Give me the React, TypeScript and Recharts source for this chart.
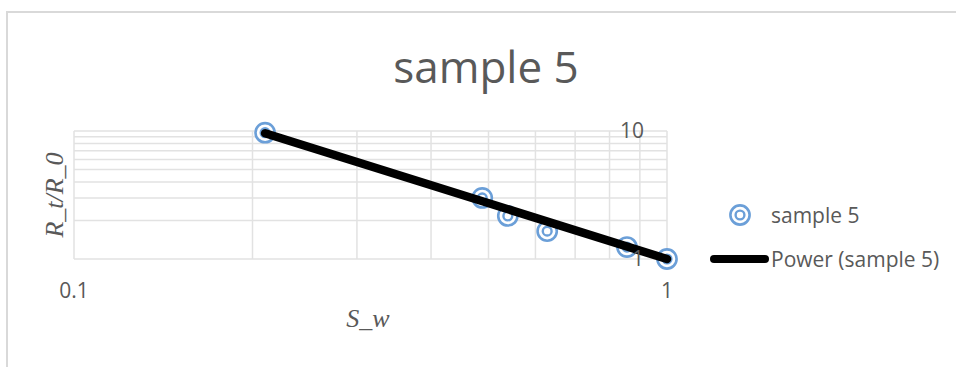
import React from "react";
import { ScatterChart, Scatter, XAxis, YAxis, ReferenceLine } from "recharts";

// measured points (S_w, R_t/R_0)
const swValues = [0.21, 0.488, 0.539, 0.628, 0.856, 1.0];
const rtValues = [9.7, 3.0, 2.17, 1.65, 1.24, 1.0];

// power trendline end points
const trendSw = [0.21, 1.0];
const trendRt = [9.6, 1.0];

const xTicks = [0.1, 1];
const yTicks = [1, 10];
const xGrid = [0.1, 0.2, 0.3, 0.4, 0.5, 0.6, 0.7, 0.8, 0.9, 1];
const yGrid = [1, 2, 3, 4, 5, 6, 7, 8, 9, 10];

const samples = swValues.map((x, i) => ({ x, y: rtValues[i] }));
const trend = trendSw.map((x, i) => ({ x, y: trendRt[i] }));

const TEXT = "#595959";
const GRID = "#e2e2e2";
const BLUE = "#6b9fd8";
const SANS = "'Open Sans', sans-serif";
const SERIF = "'Liberation Serif', serif";

const Marker = ({ cx, cy }: { cx?: number; cy?: number }) => (
  <g>
    <circle cx={cx} cy={cy} r={9.6} fill="#fff" stroke={BLUE} strokeWidth={2.6} />
    <circle cx={cx} cy={cy} r={4.4} fill="#fff" stroke={BLUE} strokeWidth={2.4} />
  </g>
);

export default function App() {
  return (
    <div style={{ position: "absolute", left: 0, top: 0, width: 956, height: 367, background: "#fff" }}>
      {/* chart frame */}
      <div
        style={{
          position: "absolute",
          left: 6,
          top: 11,
          right: 0,
          bottom: 0,
          borderLeft: "2px solid #d9d9d9",
          borderTop: "2px solid #d9d9d9",
        }}
      />
      <ScatterChart
        width={956}
        height={367}
        margin={{ top: 131, left: 74, right: 289, bottom: 68 }}
        style={{ position: "absolute", left: 0, top: 0 }}
      >
        <XAxis
          type="number"
          dataKey="x"
          scale="log"
          domain={[0.1, 1]}
          ticks={xTicks}
          axisLine={false}
          tickLine={false}
          tickSize={0}
          tickMargin={24}
          height={40}
          tick={{ fill: TEXT, fontSize: 21, fontFamily: SANS }}
          tickFormatter={(v: number) => String(v)}
        />
        <YAxis
          type="number"
          dataKey="y"
          scale="log"
          domain={[1, 10]}
          ticks={yTicks}
          orientation="right"
          mirror
          width={1}
          axisLine={false}
          tickLine={false}
          tickSize={0}
          tickMargin={23}
          tick={{ fill: TEXT, fontSize: 21, fontFamily: SANS }}
        />
        {xGrid.map((v) => (
          <ReferenceLine key={"x" + v} x={v} stroke={GRID} strokeWidth={1.5} />
        ))}
        {yGrid.map((v) => (
          <ReferenceLine key={"y" + v} y={v} stroke={GRID} strokeWidth={1.5} />
        ))}
        <Scatter name="sample 5" data={samples} shape={<Marker />} isAnimationActive={false} />
        <Scatter
          name="Power (sample 5)"
          data={trend}
          line={{ stroke: "#000", strokeWidth: 8.5, strokeLinecap: "round" }}
          lineType="joint"
          shape={() => <g />}
          isAnimationActive={false}
        />
      </ScatterChart>

      {/* title, axis titles and legend */}
      <svg
        width={956}
        height={367}
        style={{ position: "absolute", left: 0, top: 0, pointerEvents: "none" }}
      >
        <text x={486} y={83} textAnchor="middle" fill={TEXT} fontSize={44} fontFamily={SANS}>
          sample 5
        </text>
        <text
          x={63}
          y={195}
          textAnchor="middle"
          fill={TEXT}
          fontSize={26}
          fontStyle="italic"
          fontFamily={SERIF}
          transform="rotate(-90 63 195)"
        >
          R_t/R_0
        </text>
        <text x={368} y={327} textAnchor="middle" fill={TEXT} fontSize={26} fontStyle="italic" fontFamily={SERIF}>
          S_w
        </text>

        <Marker cx={740} cy={215} />
        <text x={771} y={223} fill={TEXT} fontSize={21} fontFamily={SANS}>
          sample 5
        </text>
        <line x1={714} y1={259} x2={765} y2={259} stroke="#000" strokeWidth={8} strokeLinecap="round" />
        <text x={771} y={267} fill={TEXT} fontSize={21} fontFamily={SANS}>
          Power (sample 5)
        </text>
      </svg>
    </div>
  );
}
